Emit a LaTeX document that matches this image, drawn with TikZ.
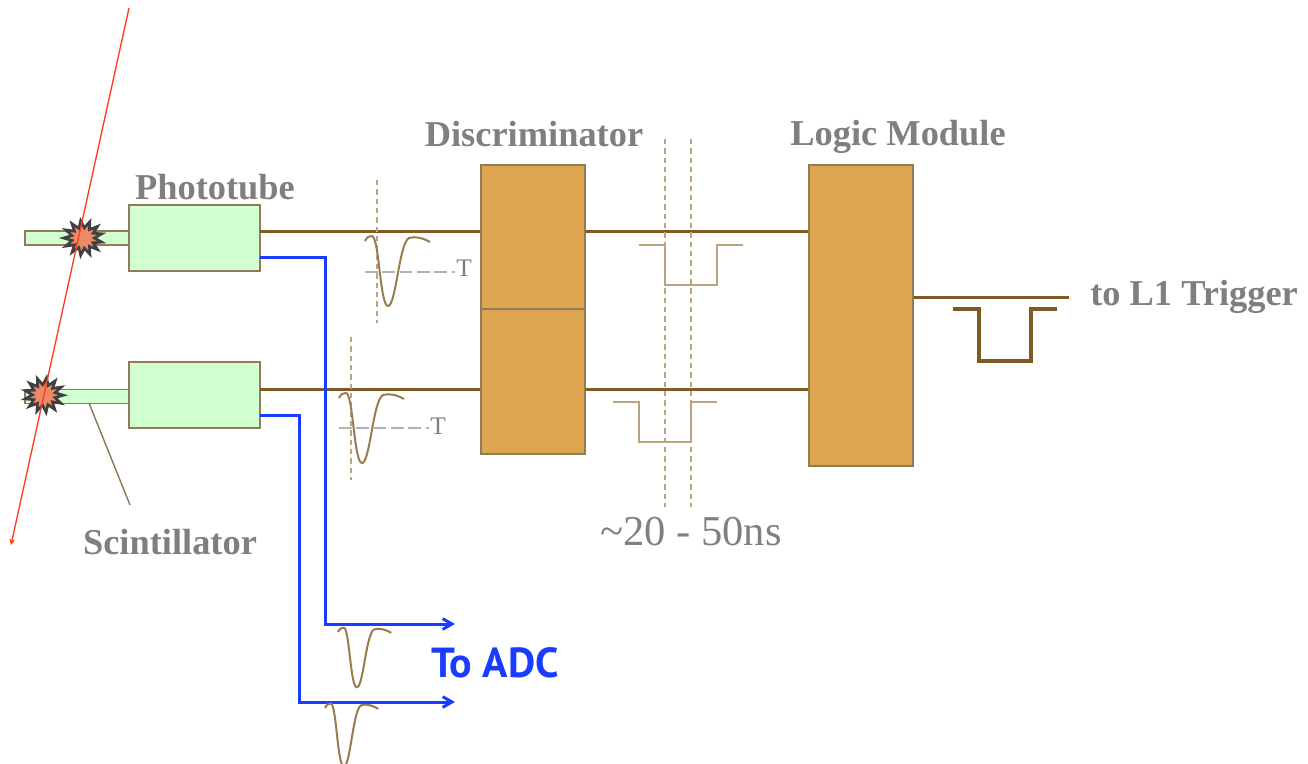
\documentclass[tikz,border=0pt]{standalone}
\usepackage{fontspec}
\setmainfont{Liberation Serif}
\newfontfamily\adcfont{PT Sans}
\usetikzlibrary{shapes.geometric,arrows.meta}
\definecolor{tubegreen}{HTML}{D2FFD2}
\definecolor{boxline}{HTML}{8F7B55}
\definecolor{modorange}{HTML}{DDA550}
\definecolor{wirebrown}{HTML}{7F5A22}
\definecolor{pulsetan}{HTML}{B9A482}
\definecolor{adcblue}{HTML}{1A3CFF}
\definecolor{labelgray}{HTML}{7F7F7F}
\definecolor{burstfill}{HTML}{EC8A68}
\definecolor{trackred}{HTML}{FF3B20}
% one bipolar pulse: start point, then x and y stretch
\newcommand{\pulsecurve}[4]{%
  \draw[pulseline, shift={(#1,#2)}, xscale=#3, yscale=#4] (0,0) .. controls (2,-4) and (4,-5) .. (7,-5)
    .. controls (14,-5) and (15,65) .. (23,65)
    .. controls (31,65) and (34,2) .. (44,-3)
    .. controls (50,-5) and (58,-3) .. (65,1);}
% one square pulse: left end, drop, rise, right end, top, bottom
\newcommand{\squarepulse}[7][squareline]{%
  \draw[#1] (#2,#6) -- (#3,#6) -- (#3,#7) -- (#4,#7) -- (#4,#6) -- (#5,#6);}

\begin{document}
\begin{tikzpicture}[
    x=0.75pt, y=-0.75pt,
    tubebox/.style={rectangle, draw=boxline, fill=tubegreen, line width=1.4pt, inner sep=0pt, minimum width=98.25pt, minimum height=49.5pt},
    scintbar/.style={rectangle, draw=boxline, fill=tubegreen, line width=1.4pt, inner sep=0pt, minimum width=78pt, minimum height=10.5pt},
    modbox/.style={rectangle, draw=boxline, fill=modorange, line width=1.1pt, inner sep=0pt, minimum width=78pt},
    burst/.style={star, star points=13, star point ratio=1.7, shape border rotate=#1, draw=black!75, fill=burstfill, line width=2pt, inner sep=0pt, minimum size=29pt, yscale=0.9},
    wire/.style={wirebrown, line width=2.25pt},
    adcwire/.style={adcblue, line width=2.25pt, -{Straight Barb[length=7pt,width=8pt]}},
    tubewire/.style={adcblue, line width=2.25pt},
    pulseline/.style={wirebrown!80!white, line width=1.5pt},
    squareline/.style={pulsetan, line width=1.7pt},
    outpulse/.style={wirebrown, line width=3pt},
    timeline/.style={pulsetan, line width=1.7pt, dash pattern=on 4pt off 3pt},
    threshold/.style={black!30, line width=1.6pt, dash pattern=on 9.5pt off 3.5pt},
    head/.style={text=labelgray, font=\bfseries\fontsize{27.3}{27.3}\selectfont, inner sep=0pt},
    note/.style={text=labelgray, font=\fontsize{19}{19}\selectfont, inner sep=0pt}
]
    \useasboundingbox (0,0) rectangle (1308,763);

    % Scintillators and phototubes
    \node[scintbar] (scintA) at (77,238) {};
    \node[scintbar] (scintB) at (77,396.5) {};
    \node[tubebox] (tubeA) at (194.5,238) {};
    \node[tubebox] (tubeB) at (194.5,395) {};
    \node[head] (tubeLabel) at (215,187) {Phototube};

    % Modules
    \node[modbox, minimum height=108pt] (discA) at (533,237) {};
    \node[modbox, minimum height=108.75pt] (discB) at (533,381.5) {};
    \node[modbox, minimum height=225.75pt] (logicBox) at (861,315.5) {};
    \node[head] (discLabel) at (534,134) {Discriminator};
    \node[head] (logicLabel) at (898,137) {Logic Module};

    % Signal wires
    \coordinate (wireA) at (260,231);
    \coordinate (wireB) at (260,389);
    \coordinate (wireOut) at (1069,297);
    \draw[wire] (wireA) -- (wireA -| discA.west);
    \draw[wire] (wireB) -- (wireB -| discB.west);
    \draw[wire] (wireA -| discA.east) -- (wireA -| logicBox.west);
    \draw[wire] (wireB -| discB.east) -- (wireB -| logicBox.west);
    \draw[wire] (wireOut -| logicBox.east) -- (wireOut);
    \node[head, anchor=west] (trigLabel) at (1090,297) {to L1 Trigger};

    % Lines to the ADC
    \coordinate (adcA) at (455,624);
    \coordinate (adcB) at (455,702);
    \draw[tubewire] (260,257) -- (325,257) -- (325,624) -- (330,624);
    \draw[tubewire] (260,415) -- (299,415) -- (299,702) -- (304,702);
    \draw[adcwire] (325,624) -- (adcA);
    \draw[adcwire] (299,702) -- (adcB);
    \node[text=adcblue, font=\adcfont\bfseries\fontsize{31.5}{31.5}\selectfont, inner sep=0pt] (adcLabel) at (495,663) {To ADC};

    % Timing marks
    \draw[timeline] (377,180) -- (377,323);
    \draw[timeline] (351,337) -- (351,480);
    \draw[timeline] (665,139) -- (665,507);
    \draw[timeline] (691,139) -- (691,507);
    \draw[threshold] (365,272) -- (455,272);
    \draw[threshold] (339,428) -- (429,428);
    \node[note, anchor=west] (thrA) at (456,268) {T};
    \node[note, anchor=west] (thrB) at (430,426) {T};
    \node[text=labelgray, font=\fontsize{31.9}{31.9}\selectfont, inner sep=0pt] (widthLabel) at (691,532) {\textasciitilde20 - 50ns};

    % Pulses
    \pulsecurve{365}{241}{1}{1}
    \pulsecurve{339}{398}{1}{1}
    \pulsecurve{338}{632}{0.82}{0.85}
    \pulsecurve{325}{708}{0.82}{0.9}
    \squarepulse{639}{665}{717}{743}{245}{285}
    \squarepulse{613}{639}{691}{717}{402}{442}
    \squarepulse[outpulse]{953}{979}{1031}{1057}{309}{361}

    % Track through both counters
    \node[burst=7] (hitA) at (83,238) {};
    \node[burst=20] (hitB) at (44,395) {};
    \coordinate (trackTop) at (129,8);
    \coordinate (trackEnd) at (11,545);
    \draw[trackred, line width=1pt, -{Straight Barb[length=3pt,width=3pt]}] (trackTop) -- (trackEnd);

    % Scintillator label and leader
    \node[head] (scintLabel) at (170,542) {Scintillator};
    \coordinate (leaderFoot) at (130,505);
    \draw[boxline, line width=1.1pt] (89,403) -- (leaderFoot);
\end{tikzpicture}
\end{document}
